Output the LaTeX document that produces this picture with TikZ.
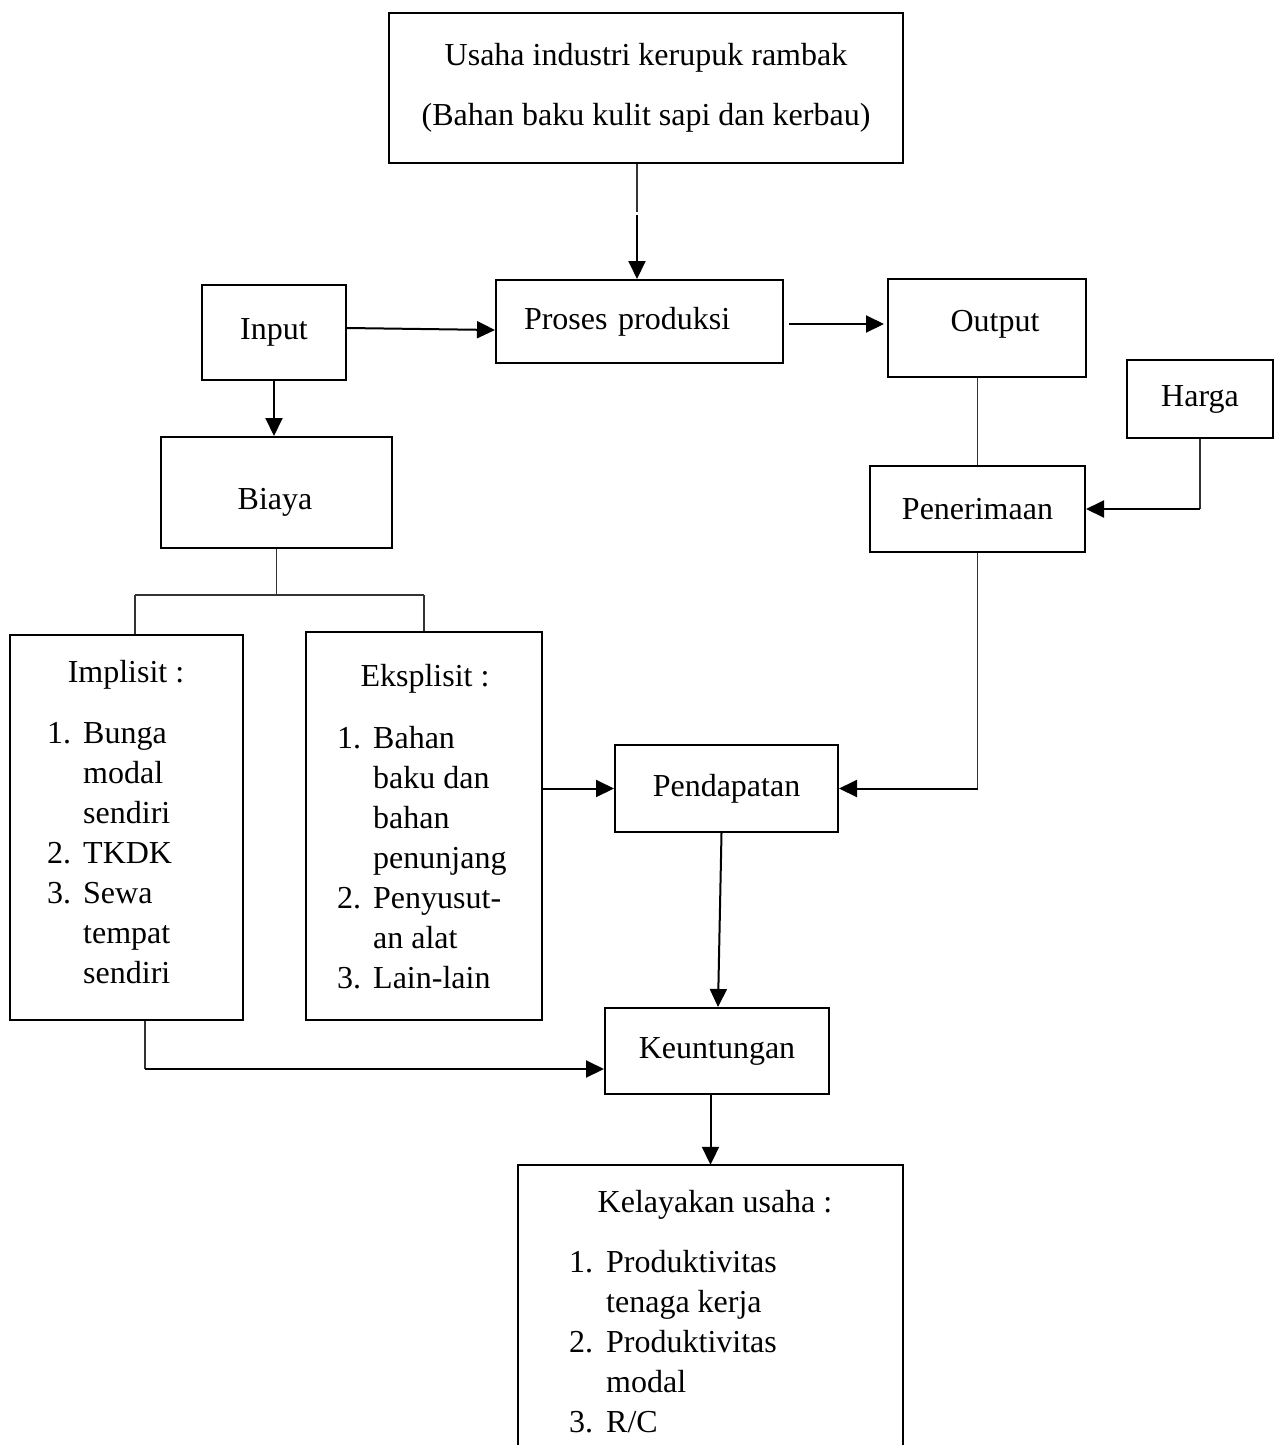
\documentclass[tikz,border=0pt]{standalone}
\usepackage{fontspec}
\setmainfont{Liberation Serif}
\usetikzlibrary{arrows.meta}
\tikzset{
  every node/.style={font=\fontsize{32}{40}\selectfont},
  box/.style={draw,line width=2pt,inner sep=0pt},
  link/.style={line width=1.2pt,black!80},
  arr/.style={line width=2pt,-{Triangle[length=18pt,width=17pt]}},
  lst/.style={anchor=base west,inner sep=0pt},
  judul/.style={anchor=base,inner sep=0pt}
}
\begin{document}
\begin{tikzpicture}[x=1pt,y=-1pt]
        \useasboundingbox (0,0) rectangle (1281,1445);
        \node[box,minimum width=514pt,minimum height=150pt,align=center,font=\fontsize{32}{60}\selectfont] (usaha) at (646,88) {Usaha industri kerupuk rambak\\(Bahan baku kulit sapi dan kerbau)};
        \node[box,minimum height=83pt,inner xsep=28pt,text width=231pt,align=left] (proses) at (639.5,321.5) {Proses produksi};
        \node[box,minimum width=144pt,minimum height=95pt] (input) at (274,332.5) {Input};
        \node[box,minimum width=198pt,minimum height=98pt] (output) at (987,328) {};
        \node (outputtxt) at (995,324) {Output};
        \node[box,minimum width=146pt,minimum height=78pt] (harga) at (1200,399) {Harga};
        \node[box,minimum width=231pt,minimum height=111pt] (biaya) at (276.5,492.5) {};
        \node (biayatxt) at (275,502) {Biaya};
        \node[box,minimum width=215pt,minimum height=86pt] (penerimaan) at (977.5,509) {Penerimaan};
        \node[box,minimum width=233pt,minimum height=385pt] (implisit) at (126.5,827.5) {};
        \node[box,minimum width=236pt,minimum height=388pt] (eksplisit) at (424,826) {};
        \node[box,minimum width=223pt,minimum height=87pt] (pendapatan) at (726.5,788.5) {Pendapatan};
        \node[box,minimum width=224pt,minimum height=86pt] (keuntungan) at (717,1051) {Keuntungan};
        \node[minimum width=385pt,minimum height=300pt,inner sep=0pt] (kelayakan) at (710.5,1315) {};
        \draw[line width=2pt] (kelayakan.south west) |- (kelayakan.north east) -- (kelayakan.south east);
        \node[judul] (impjudul) at (126,682) {Implisit :};
        \node[lst] (implist) at (47,743) {\begin{tabular}[t]{@{}p{36pt}@{}l@{}}1. & Bunga\\ & modal\\ & sendiri\\ 2. & TKDK\\ 3. & Sewa\\ & tempat\\ & sendiri\end{tabular}};
        \node[judul] (eksjudul) at (425,686) {Eksplisit :};
        \node[lst] (ekslist) at (337,748) {\begin{tabular}[t]{@{}p{36pt}@{}l@{}}1. & Bahan\\ & baku dan\\ & bahan\\ & penunjang\\ 2. & Penyusut-\\ & an alat\\ 3. & Lain-lain\end{tabular}};
        \node[judul] (keljudul) at (715,1212) {Kelayakan usaha :};
        \node[lst] (kellist) at (569,1272) {\begin{tabular}[t]{@{}p{37pt}@{}l@{}}1. & Produktivitas\\ & tenaga kerja\\ 2. & Produktivitas\\ & modal\\ 3. & R/C\end{tabular}};
        \coordinate (usahabrk) at (637,212);
        \coordinate (splitl) at (135,595);
        \coordinate (splitr) at (424,595);
        \coordinate (impbelok) at (145,1069);
        \draw[link] (usaha.south -| usahabrk) -- (usahabrk);
        \draw[arr] ([yshift=-3pt]usahabrk) -- (proses.north -| usahabrk);
        \draw[arr] ([yshift=4.5pt]input.east) -- ([yshift=-8.5pt]proses.west);
        \draw[arr] ([xshift=5pt,yshift=-2.5pt]proses.east) -- ([xshift=-3pt,yshift=4pt]output.west);
        \draw[arr] (input.south) -- (input.south |- biaya.north);
        \draw[link] (biaya.south) -- (biaya.south |- splitl);
        \draw[link] (splitl) -- (splitr);
        \draw[link] (splitl) -- (splitl |- implisit.north);
        \draw[link] (splitr) -- (splitr |- eksplisit.north);
        \draw[link] (penerimaan.north |- output.south) -- (penerimaan.north);
        \draw[link] (harga.south) -- (harga.south |- penerimaan.east);
        \draw[arr] (harga.south |- penerimaan.east) -- (penerimaan.east);
        \draw[link] (penerimaan.south) -- (penerimaan.south |- pendapatan.east);
        \draw[arr] (penerimaan.south |- pendapatan.east) -- (pendapatan.east);
        \draw[arr] (eksplisit.east |- pendapatan.west) -- (pendapatan.west);
        \draw[arr] ([xshift=-5pt]pendapatan.south) -- ([xshift=1pt]keuntungan.north);
        \draw[link] (implisit.south -| impbelok) -- (impbelok);
        \draw[arr] (impbelok) -- (impbelok -| keuntungan.west);
        \draw[arr] (kelayakan.north |- keuntungan.south) -- (kelayakan.north);
    \end{tikzpicture}
\end{document}
